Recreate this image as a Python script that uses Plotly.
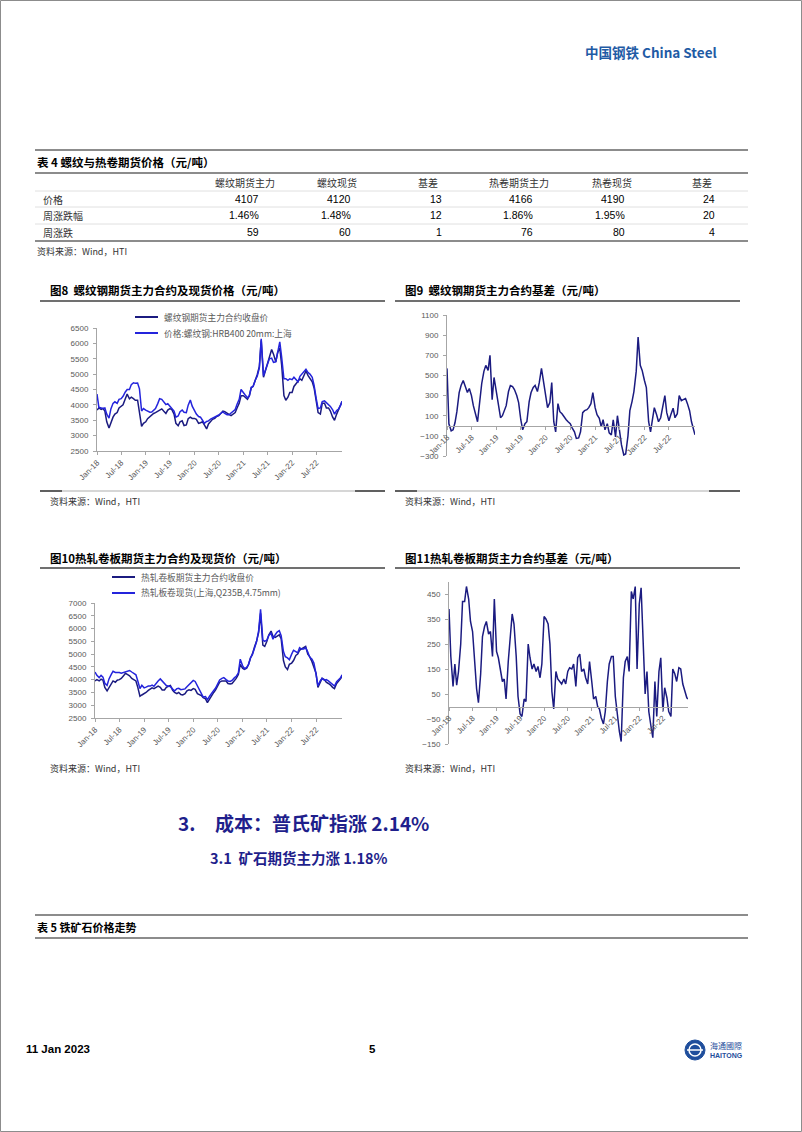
import pandas as pd
import plotly.graph_objects as go

W, H = 802, 1132

# ---------------- data ----------------
dates = list(pd.date_range("2018-01-01", "2023-01-01", freq="SMS").strftime("%Y-%m-%d")) + ["2023-01-10"]

rb_fut = [
    3830, 3900, 3850, 3880, 3800, 3450, 3250, 3450, 3600, 3700, 3750, 3900, 3950, 4000, 4200, 4350, 4200, 4250, 4200, 4150, 4150, 3750, 3300, 3400,
    3450, 3550, 3620, 3680, 3720, 3750, 3800, 3850, 3870, 3800, 3720, 3830, 3880, 3850, 3700, 3400, 3320, 3450, 3480, 3330, 3350, 3550, 3600, 3560,
    3560, 3530, 3400, 3420, 3450, 3350, 3220, 3380, 3450, 3530, 3560, 3620, 3650, 3720, 3800, 3780, 3720, 3690, 3650, 3700, 3750, 3900, 4050, 4300,
    4300, 4250, 4180, 4300, 4550, 4600, 4800, 4980, 5250, 6100, 4900, 5100, 5350, 5550, 5800, 5650, 5400, 5700, 5850, 5300, 4300, 4150, 4250, 4400,
    4400, 4600, 4700, 4750, 4850, 4800, 5000, 5100, 4950, 4850, 4750, 4550, 4150, 3750, 3700, 4050, 4050, 3900, 3900, 3800, 3600, 3500, 3700, 3850,
    4000, 4107]
rb_spot = [
    4350, 3920, 3900, 3880, 3900, 3700, 3570, 3870, 4050, 4100, 4050, 4180, 4200, 4280, 4420, 4500, 4500, 4660, 4720, 4700, 4710, 4520, 3800, 3880,
    3830, 3800, 3760, 3770, 3820, 3880, 4040, 4200, 4180, 4110, 4010, 4040, 3950, 3860, 3800, 3600, 3640, 3780, 3830, 3760, 3750, 3990, 4160, 3960,
    3800, 3700, 3620, 3600, 3500, 3400, 3460, 3480, 3540, 3570, 3590, 3640, 3670, 3720, 3770, 3720, 3680, 3680, 3740, 3790, 3850, 4020, 4180, 4500,
    4420, 4320, 4230, 4290, 4570, 4600, 4810, 4930, 5200, 6150, 4950, 5150, 5320, 5500, 5520, 5380, 5400, 5750, 6050, 5550, 4850, 4850, 4800, 4850,
    4820, 4900, 4800, 4750, 4930, 5000, 5100, 5160, 5050, 5000, 4900, 4630, 4200, 3880, 3900, 4110, 4130, 4080, 4020, 3950, 3840, 3700, 3820, 3860,
    4000, 4120]
rb_basis = [
    570, 20, -50, -40, 30, 140, 330, 400, 450, 390, 330, 370, 300, 200, 110, 40, 250, 420, 540, 600, 550, 700, 260, 480,
    340, 200, 80, 100, 150, 200, 340, 400, 390, 360, 300, 230, 60, -40, 20, 40, 240, 330, 380, 400, 340, 430, 570, 450,
    300, 180, 230, 430, 40, -60, 220, 140, 120, 90, 60, 40, 20, -20, -60, -125, -120, -60, 130, 150, 160, 180, 220, 330,
    180, 110, 75, -10, 60, -40, 20, -70, -90, 60, -110, 100, -50, -190, -290, -280, -100, 150, 240, 340, 540, 880, 600, 550,
    450, 380, 40, -60, 60, 180, 110, 40, 80, 200, 300, 130, 50, 110, 175, 80, 120, 300, 250, 260, 270, 220, 150, 40,
    -40, -90]
hc_fut = [
    3950, 4000, 3950, 4020, 3980, 3700, 3560, 3700, 3850, 3950, 3900, 3980, 4000, 4050, 4150, 4250, 4200, 4150, 4050, 4000, 3950, 3700, 3350, 3400,
    3450, 3500, 3580, 3620, 3680, 3650, 3720, 3750, 3700, 3600, 3600, 3700, 3740, 3770, 3580, 3500, 3450, 3500, 3420, 3400, 3450, 3560, 3600, 3580,
    3650, 3620, 3450, 3420, 3380, 3300, 3250, 3100, 3250, 3400, 3500, 3600, 3750, 3900, 3950, 3960, 3950, 3850, 3830, 3850, 3950, 4050, 4200, 4600,
    4450, 4400, 4450, 4600, 4850, 5000, 5300, 5500, 5850, 6600, 5350, 5300, 5500, 5750, 5900, 5700, 5650, 5700, 5750, 5600, 4750, 4500, 4400, 4600,
    4650, 4750, 4950, 5000, 5150, 5200, 5250, 5300, 5000, 4900, 4700, 4500, 4250, 3700, 3900, 4050, 4000, 3900, 3850, 3800, 3700, 3650, 3850, 3950,
    4050, 4166]
hc_spot = [
    4300, 4170, 4080, 4170, 4100, 3860, 3780, 4030, 4200, 4330, 4280, 4280, 4280, 4250, 4280, 4330, 4340, 4360, 4300, 4260, 4190, 3950, 3650, 3780,
    3680, 3710, 3750, 3750, 3790, 3740, 3880, 3950, 4030, 3960, 3850, 3770, 3740, 3730, 3630, 3560, 3650, 3660, 3610, 3620, 3640, 3720, 3800, 3850,
    3970, 3930, 3760, 3640, 3470, 3320, 3340, 3220, 3350, 3470, 3580, 3670, 3820, 3990, 4050, 4080, 4000, 3950, 3930, 3970, 4070, 4130, 4270, 4800,
    4550, 4430, 4480, 4600, 4850, 4980, 5250, 5480, 5930, 6750, 5550, 5500, 5550, 5730, 5820, 5580, 5760, 5860, 5920, 5720, 5100, 4900, 4850, 4780,
    5000, 5150, 5100, 5050, 5250, 5200, 5200, 5250, 5080, 4880, 4800, 4650, 4230, 3760, 3950, 4050, 3980, 4000, 3950, 3880, 3820, 3750, 3920, 3990,
    4080, 4190]
hc_basis = [
    390, 200, 80, 170, 85, 140, 250, 420, 420, 480, 430, 340, 300, 180, 70, 15, 130, 280, 320, 340, 290, 300, 200, 430,
    220, 195, 140, 100, 110, 30, 180, 260, 370, 330, 200, 40, -30, -40, 30, 20, 250, 195, 150, 170, 140, 160, 115, 170,
    360, 350, 330, 250, 60, -10, 140, 110, 100, 90, 110, 90, 140, 155, 150, 170, 80, 195, 210, 140, 150, 115, 90, 180,
    100, 30, 40, 0, -10, -45, -70, -20, 100, 170, 200, 200, 40, -30, -100, -140, 115, 180, 200, 140, 460, 430, 480, 150,
    410, 475, 200, 50, 140, -20, -80, -125, 100, -40, 140, 195, -20, 75, 35, -20, -40, 150, 130, 100, 155, 150, 90, 60,
    35, 30]

tick_dates = ["2018-01-01", "2018-07-01", "2019-01-01", "2019-07-01", "2020-01-01",
              "2020-07-01", "2021-01-01", "2021-07-01", "2022-01-01", "2022-07-01"]
tick_labels = ["Jan-18", "Jul-18", "Jan-19", "Jul-19", "Jan-20",
               "Jul-20", "Jan-21", "Jul-21", "Jan-22", "Jul-22"]

table_cols = ["螺纹期货主力", "螺纹现货", "基差", "热卷期货主力", "热卷现货", "基差"]
table_rows = ["价格", "周涨跌幅", "周涨跌"]
table_vals = [["4107", "4120", "13", "4166", "4190", "24"],
              ["1.46%", "1.48%", "12", "1.86%", "1.95%", "20"],
              ["59", "60", "1", "76", "80", "4"]]

# ---------------- helpers ----------------
def X(p):
    return p / W

def Y(p):
    return 1 - p / H

CJK = "Noto Sans CJK SC"
LAT = "Liberation Sans"
NAVY = "#1b1b80"
BLUE = "#2424dc"
GRAY_T = "#595959"
AX = "#a6a6a6"

annotations = []
shapes = []

def txt(s, x, y, size, color="#000000", anchor="left", family=CJK, yanchor="middle"):
    annotations.append(dict(text=s, x=X(x), y=Y(y), xref="paper", yref="paper",
                            xanchor=anchor, yanchor=yanchor, showarrow=False,
                            font=dict(size=size, color=color, family=family)))

def hline(x0, x1, y, color, width):
    shapes.append(dict(type="line", xref="paper", yref="paper", x0=X(x0), x1=X(x1),
                       y0=Y(y), y1=Y(y), line=dict(color=color, width=width)))

fig = go.Figure()

fig.add_trace(go.Scatter(x=dates, y=rb_fut, mode="lines", line=dict(color=NAVY, width=1.5),
                         xaxis="x", yaxis="y", showlegend=False))
fig.add_trace(go.Scatter(x=dates, y=rb_spot, mode="lines", line=dict(color=BLUE, width=1.5),
                         xaxis="x", yaxis="y", showlegend=False))
fig.add_trace(go.Scatter(x=dates, y=rb_basis, mode="lines", line=dict(color=NAVY, width=1.5),
                         xaxis="x2", yaxis="y2", showlegend=False))
fig.add_trace(go.Scatter(x=dates, y=hc_fut, mode="lines", line=dict(color=NAVY, width=1.5),
                         xaxis="x3", yaxis="y3", showlegend=False))
fig.add_trace(go.Scatter(x=dates, y=hc_spot, mode="lines", line=dict(color=BLUE, width=1.5),
                         xaxis="x3", yaxis="y3", showlegend=False))
fig.add_trace(go.Scatter(x=dates, y=hc_basis, mode="lines", line=dict(color=NAVY, width=1.5),
                         xaxis="x4", yaxis="y4", showlegend=False))

tickfont = dict(size=8, color=GRAY_T, family=LAT)

def xax(x0, x1, anchor, position=None):
    d = dict(type="date", domain=[X(x0), X(x1)], range=[dates[0], dates[-1]],
             tickmode="array", tickvals=tick_dates, ticktext=tick_labels, tickangle=-45,
             showline=True, linecolor=AX, linewidth=1, ticks="outside", ticklen=3,
             tickcolor=AX, showgrid=False, zeroline=False, tickfont=tickfont,
             automargin=False)
    if position is None:
        d["anchor"] = anchor
    else:
        d["anchor"] = "free"
        d["position"] = position
    return d

def yax(ybot, ytop, rng, tick0, dtick, anchor):
    return dict(domain=[Y(ybot), Y(ytop)], range=rng, tick0=tick0, dtick=dtick,
                showline=True, linecolor=AX, linewidth=1, ticks="outside", ticklen=3,
                tickcolor=AX, showgrid=False, zeroline=False, tickfont=tickfont,
                anchor=anchor, ticklabelstandoff=3, automargin=False)

layout = dict(
    template="none",
    width=W, height=H, margin=dict(l=0, r=0, t=0, b=0, pad=0, autoexpand=False),
    paper_bgcolor="white", plot_bgcolor="white", showlegend=False,
    xaxis=xax(97, 342, "y"),
    yaxis=yax(451, 328, [2500, 6500], 2500, 500, "x"),
    xaxis2=xax(447, 695, "y2", position=Y(456 - 300 / 1400 * 141)),
    yaxis2=yax(456, 315, [-300, 1100], -300, 200, "x2"),
    xaxis3=xax(95, 342, "y3"),
    yaxis3=yax(718, 603, [2500, 7000], 2500, 500, "x3"),
    xaxis4=xax(449, 688, "y4", position=Y(744 - 150 / 650 * 162.5)),
    yaxis4=yax(744, 581.5, [-150, 500], -150, 100, "x4"),
)

# ---------------- page furniture ----------------
shapes.append(dict(type="rect", xref="paper", yref="paper", x0=X(0.5), x1=X(801.5),
                   y0=Y(1131.5), y1=Y(0.5), line=dict(color="#8c8c8c", width=1)))

txt("<b>中国钢铁 China Steel</b>", 583, 52, 13.5, "#1f5ba5")

# table 4
hline(35, 748, 150, "#8c8c8c", 2)
txt("<b>表 4 螺纹与热卷期货价格（元/吨）</b>", 35, 162, 11.5, "#000000")
hline(35, 748, 173, "#8c8c8c", 2)
col_centers = [245, 337, 428, 519, 612, 702]
col_rights = [261, 353, 444, 535, 627, 717]
for c, name in zip(col_centers, table_cols):
    txt(name, c, 182, 10, "#333333", anchor="center")
row_ys = [199, 215, 232]
for yy in [191, 207, 224]:
    hline(35, 748, yy, "#e0e0e0", 1)
for r, (label, yy) in enumerate(zip(table_rows, row_ys)):
    txt(label, 41, yy, 10, "#333333")
    for c, xr in enumerate(col_rights):
        txt(table_vals[r][c], xr, yy, 10.5, "#000000", anchor="right", family=LAT)
hline(35, 748, 241, "#8c8c8c", 2)
txt("资料来源：Wind，HTI", 35, 251, 9, "#333333")

# chart titles and rules
txt("<b>图8  螺纹钢期货主力合约及现货价格（元/吨）</b>", 48, 290, 11.5)
txt("<b>图9  螺纹钢期货主力合约基差（元/吨）</b>", 403, 290, 11.5)
txt("<b>图10热轧卷板期货主力合约及现货价（元/吨）</b>", 48, 558, 11.5)
txt("<b>图11热轧卷板期货主力合约基差（元/吨）</b>", 403, 558, 11.5)
for yy in [301, 568]:
    hline(40, 385, yy, "#404040", 1.5)
    hline(395, 740, yy, "#404040", 1.5)

# bottom rule of first row
hline(40, 385, 491, "#c8c8c8", 1.5)
hline(395, 740, 491, "#c8c8c8", 1.5)
for a, b in [(40, 62), (355, 385), (395, 417), (709, 740)]:
    hline(a, b, 491, "#606060", 2)

# legends
def legend_item(x0, y, color, label):
    hline(x0, x0 + 23, y, color, 2)
    txt(label, x0 + 27, y, 8.7, GRAY_T)

legend_item(135, 317, NAVY, "螺纹钢期货主力合约收盘价")
legend_item(135, 333, BLUE, "价格:螺纹钢:HRB400 20mm:上海")
legend_item(112, 577, NAVY, "热轧卷板期货主力合约收盘价")
legend_item(112, 593, BLUE, "热轧板卷现货(上海,Q235B,4.75mm)")

# sources
txt("资料来源：Wind，HTI", 48, 501, 9, "#333333")
txt("资料来源：Wind，HTI", 403, 501, 9, "#333333")
txt("资料来源：Wind，HTI", 48, 768, 9, "#333333")
txt("资料来源：Wind，HTI", 403, 768, 9, "#333333")

# section headings
SEC = "#1f1f8c"
txt("<b>3.</b>", 176, 822, 19, SEC)
txt("<b>成本：普氏矿指涨 2.14%</b>", 213, 822, 19, SEC)
txt("<b>3.1  矿石期货主力涨 1.18%</b>", 208, 857, 14.5, SEC)

# table 5
hline(35, 748, 915, "#8c8c8c", 2)
txt("<b>表 5 铁矿石价格走势</b>", 35, 927, 11, "#000000")
hline(35, 748, 938, "#8c8c8c", 2)

# footer
txt("<b>11 Jan 2023</b>", 24, 1049, 11.5, "#000000", family=LAT)
txt("<b>5</b>", 372, 1049, 11.5, "#000000", anchor="center", family=LAT)
shapes.append(dict(type="circle", xref="paper", yref="paper", x0=X(685), x1=X(705),
                   y0=Y(1060), y1=Y(1040), fillcolor="#1f4e9c", line=dict(color="#1f4e9c", width=1)))
shapes.append(dict(type="circle", xref="paper", yref="paper", x0=X(689), x1=X(701),
                   y0=Y(1056), y1=Y(1044), fillcolor="rgba(0,0,0,0)", line=dict(color="white", width=1.5)))
hline(687, 703, 1050, "white", 1.5)
txt("海通國際", 708, 1045, 8, "#1f4e9c")
txt("<b>HAITONG</b>", 708, 1055, 7, "#1f4e9c", family=LAT)

layout["annotations"] = annotations
layout["shapes"] = shapes
fig.update_layout(**layout)

fig.write_html("out.html", config={"displayModeBar": False},
               post_script="document.body.style.margin='0';document.body.style.overflow='hidden';")
